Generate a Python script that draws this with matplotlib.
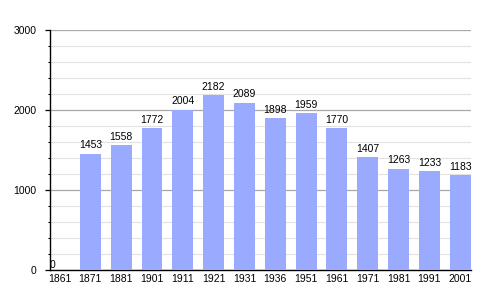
import matplotlib.pyplot as plt
from matplotlib.ticker import MultipleLocator
import numpy as np

plt.rcParams['font.family'] = ['Liberation Sans', 'DejaVu Sans']

years = ['1861', '1871', '1881', '1901', '1911', '1921', '1931',
         '1936', '1951', '1961', '1971', '1981', '1991', '2001']
population = [0, 1453, 1558, 1772, 2004, 2182, 2089,
              1898, 1959, 1770, 1407, 1263, 1233, 1183]

fig = plt.figure(figsize=(5, 3), dpi=100)
ax = fig.add_axes([0.1, 0.1, 0.842, 0.8])

x = np.arange(len(years))
ax.bar(x, population, width=0.68, color='#99aaff', zorder=3)

# value labels above bars
for xi, v in zip(x, population):
    if v == 0:
        ax.annotate(str(v), (xi, v), xytext=(-5, 0), textcoords='offset points',
                    ha='center', va='bottom', fontsize=7.5, zorder=4)
    else:
        ax.annotate(str(v), (xi, v), xytext=(0, 2.5), textcoords='offset points',
                    ha='center', va='bottom', fontsize=7.5, zorder=4)

ax.set_xlim(-0.31, 13.35)
ax.set_ylim(0, 3000)
ax.set_xticks(x)
ax.set_xticklabels(years)
ax.yaxis.set_major_locator(MultipleLocator(1000))
ax.yaxis.set_minor_locator(MultipleLocator(200))

ax.grid(axis='y', which='major', color='#a8a8a8', linewidth=0.9, zorder=1)
ax.grid(axis='y', which='minor', color='#e2e2e2', linewidth=0.8, zorder=1)

for s in ['top', 'right']:
    ax.spines[s].set_visible(False)
ax.spines['left'].set_linewidth(1.0)
ax.spines['bottom'].set_linewidth(1.0)

ax.tick_params(axis='x', length=0, pad=3, labelsize=7.5)
ax.tick_params(axis='y', which='major', length=3.6, width=0.9, pad=6, labelsize=7.5)
ax.tick_params(axis='y', which='minor', length=1.6, width=0.8)

fig.savefig('out.png', dpi=100)
